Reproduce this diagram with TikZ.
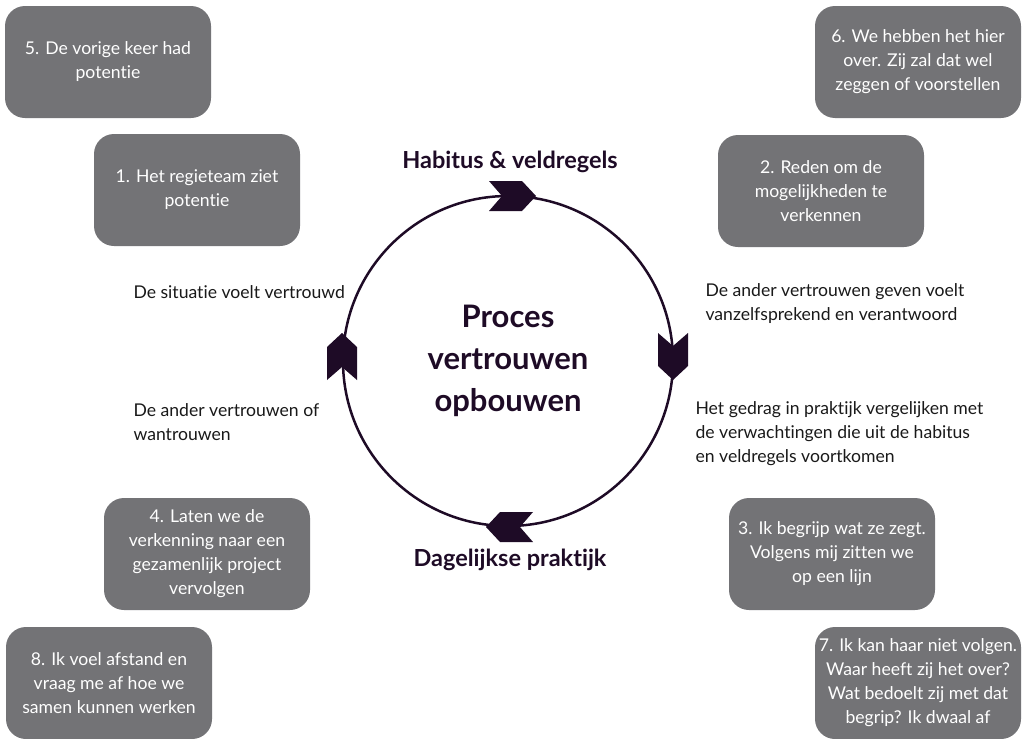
\documentclass[tikz,border=0pt]{standalone}
\usepackage{fontspec}
\setmainfont[Ligatures=NoCommon]{Lato}
\definecolor{kaartgrijs}{HTML}{737376}
\definecolor{donker}{HTML}{1E0B26}

% chevron op de cirkel: x, y, hoek
\newcommand{\pijlpunt}[3]{%
  \fill[donker,shift={(#1,#2)},rotate=#3]
    (-23,-15) -- (10,-15) -- (24,0) -- (10,15) -- (-23,15) -- (-10,0) -- cycle;}

\begin{document}
\begin{tikzpicture}[x=1pt,y=-1pt,
    kaart/.style={fill=kaartgrijs, text=white, rounded corners=20pt,
      minimum width=206pt, minimum height=112pt, align=center,
      font=\fontsize{17.6}{24}\selectfont},
    uitleg/.style={anchor=west, align=left, text=black!90,
      font=\fontsize{17.6}{24}\selectfont},
    kop/.style={text=donker, font=\bfseries\fontsize{23.5}{26}\selectfont}]
  \useasboundingbox (0,0) rectangle (1023,739);

  \coordinate (midden) at (508,361);
  \draw[donker, line width=2.5pt] (midden) circle [radius=165pt];

  \pijlpunt{512}{196}{0}
  \pijlpunt{673}{356}{-90}
  \pijlpunt{510}{527}{180}
  \pijlpunt{342}{357}{90}

  \node[kop] (habitus) at (510,162) {Habitus \& veldregels};
  \node[kop] (praktijk) at (510,560) {Dagelijkse praktijk};
  \node[text=donker, align=center, font=\bfseries\fontsize{31}{42}\selectfont]
    (proces) at (midden) {Proces\\vertrouwen\\opbouwen};

  \node[uitleg] (vertrouwd) at (130,292) {De situatie voelt vertrouwd};
  \node[uitleg] (geven) at (702,304) {De ander vertrouwen geven voelt\\vanzelfsprekend en verantwoord};
  \node[uitleg] (wantrouwen) at (130,422) {De ander vertrouwen of\\wantrouwen};
  \node[uitleg] (vergelijken) at (692,434) {Het gedrag in praktijk vergelijken met\\de verwachtingen die uit de habitus\\en veldregels voortkomen};

  \node[kaart] (k1) at (197,190) {1. Het regieteam ziet\\potentie};
  \node[kaart] (k2) at (821,191) {2. Reden om de\\mogelijkheden te\\verkennen};
  \node[kaart] (k3) at (832,554) {3. Ik begrijp wat ze zegt.\\Volgens mij zitten we\\op een lijn};
  \node[kaart] (k4) at (207,554) {4. Laten we de\\verkenning naar een\\gezamenlijk project\\vervolgen};
  \node[kaart] (k5) at (108,62) {5. De vorige keer had\\potentie};
  \node[kaart] (k6) at (918,62) {6. We hebben het hier\\over. Zij zal dat wel\\zeggen of voorstellen};
  \node[kaart] (k7) at (918,683) {7. Ik kan haar niet volgen.\\Waar heeft zij het over?\\Wat bedoelt zij met dat\\begrip? Ik dwaal af};
  \node[kaart] (k8) at (109,683) {8. Ik voel afstand en\\vraag me af hoe we\\samen kunnen werken};
\end{tikzpicture}
\end{document}
